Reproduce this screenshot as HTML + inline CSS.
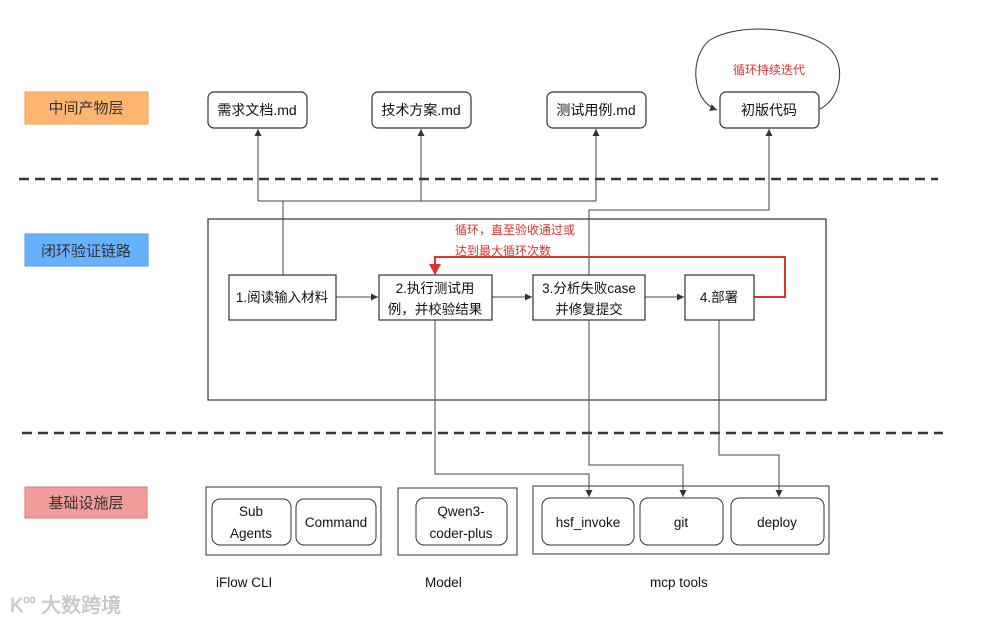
<!DOCTYPE html>
<html><head><meta charset="utf-8"><style>
body{margin:0;background:#fff;}
svg{display:block;font-family:"Liberation Sans","Noto Sans CJK SC",sans-serif;}
</style></head><body>
<svg width="1000" height="622" viewBox="0 0 1000 622" xmlns="http://www.w3.org/2000/svg">
<defs>
<marker id="a" markerWidth="8" markerHeight="8" refX="7" refY="4" orient="auto" markerUnits="userSpaceOnUse"><path d="M0,0.5 L7,4 L0,7.5 Z" fill="#333"/></marker>
<marker id="r" markerWidth="12" markerHeight="12" refX="10" refY="6" orient="auto" markerUnits="userSpaceOnUse"><path d="M0,0 L11,6 L0,12 Z" fill="#e03030"/></marker>
</defs>
<rect width="1000" height="622" fill="#fff"/>
<rect x="25" y="92" width="123" height="32" fill="#FFB570" stroke="#f0a050"/>
<text x="86" y="113" font-size="15" text-anchor="middle" fill="#333">中间产物层</text>
<rect x="25" y="234" width="123" height="32" fill="#66B2FF" stroke="#4a9ef0"/>
<text x="86" y="256" font-size="15" text-anchor="middle" fill="#333">闭环验证链路</text>
<rect x="25" y="487" width="122" height="31" fill="#F19C99" stroke="#e07a78"/>
<text x="86" y="508" font-size="15" text-anchor="middle" fill="#333">基础设施层</text>
<line x1="19" y1="179" x2="938" y2="179" stroke="#333" stroke-width="2.5" stroke-dasharray="10,6"/>
<line x1="22" y1="433" x2="943" y2="433" stroke="#333" stroke-width="2.5" stroke-dasharray="10,6"/>
<g fill="#fff" stroke="#333" stroke-width="1.2">
<rect x="208" y="92" width="99" height="36" rx="6"/>
<rect x="372" y="92" width="99" height="36" rx="6"/>
<rect x="547" y="92" width="99" height="36" rx="6"/>
<rect x="720" y="92" width="99" height="36" rx="6"/>
</g>
<g font-size="14" text-anchor="middle" fill="#111">
<text x="257" y="115">需求文档.md</text>
<text x="421" y="115">技术方案.md</text>
<text x="596" y="115">测试用例.md</text>
<text x="769" y="115">初版代码</text>
</g>
<path d="M820,109 C842,98 848,60 825,45 C800,28 740,22 710,40 C690,55 690,100 717,110" fill="none" stroke="#333" stroke-width="1" marker-end="url(#a)"/>
<text x="769" y="74" font-size="12" text-anchor="middle" fill="#e03030">循环持续迭代</text>
<rect x="208" y="219" width="618" height="181" fill="none" stroke="#333" stroke-width="1.2"/>
<g fill="#fff" stroke="#333" stroke-width="1">
<rect x="206" y="487" width="175" height="68"/>
<rect x="398" y="488" width="119" height="67"/>
<rect x="533" y="486" width="296" height="68"/>
<rect x="212" y="499" width="79" height="46" rx="8"/>
<rect x="296" y="499" width="80" height="46" rx="8"/>
<rect x="416" y="498" width="91" height="47" rx="8"/>
<rect x="542" y="498" width="92" height="47" rx="8"/>
<rect x="640" y="498" width="83" height="47" rx="8"/>
<rect x="731" y="498" width="93" height="47" rx="8"/>
</g>
<g fill="none" stroke="#444" stroke-width="1">
<path d="M283,275 V201"/>
<path d="M258,201 H596"/>
<path d="M258,201 V129" marker-end="url(#a)"/>
<path d="M421,201 V129" marker-end="url(#a)"/>
<path d="M596,201 V129" marker-end="url(#a)"/>
<path d="M589,275 V210 H769 V129" marker-end="url(#a)"/>
<path d="M336,297 H378" marker-end="url(#a)"/>
<path d="M492,297 H532" marker-end="url(#a)"/>
<path d="M645,297 H684" marker-end="url(#a)"/>
<path d="M435,320 V474 H589 V497" marker-end="url(#a)"/>
<path d="M589,320 V465 H683 V497" marker-end="url(#a)"/>
<path d="M719,320 V455 H779 V497" marker-end="url(#a)"/>
</g>
<path d="M754,297 H785 V257 H435 V274" fill="none" stroke="#e03030" stroke-width="2" marker-end="url(#r)"/>
<text x="455" y="234" font-size="12" fill="#e03030">循环，直至验收通过或</text>
<text x="455" y="255" font-size="12" fill="#e03030">达到最大循环次数</text>
<g fill="#fff" stroke="#333" stroke-width="1.2">
<rect x="229" y="275" width="107" height="45"/>
<rect x="379" y="275" width="113" height="45"/>
<rect x="533" y="275" width="112" height="45"/>
<rect x="685" y="275" width="69" height="45"/>
</g>
<g font-size="13.5" text-anchor="middle" fill="#111">
<text x="282" y="302">1.阅读输入材料</text>
<text x="435" y="293">2.执行测试用</text>
<text x="435" y="314">例，并校验结果</text>
<text x="589" y="293">3.分析失败case</text>
<text x="589" y="314">并修复提交</text>
<text x="719" y="302">4.部署</text>
</g>
<g font-size="13.5" text-anchor="middle" fill="#111">
<text x="251" y="516">Sub</text>
<text x="251" y="538">Agents</text>
<text x="336" y="527">Command</text>
<text x="461" y="516">Qwen3-</text>
<text x="461" y="538">coder-plus</text>
<text x="588" y="527">hsf_invoke</text>
<text x="681" y="527">git</text>
<text x="777" y="527">deploy</text>
</g>
<g font-size="13.5" fill="#111">
<text x="216" y="587">iFlow CLI</text>
<text x="425" y="587">Model</text>
<text x="650" y="587">mcp tools</text>
</g>
<text x="10" y="612" font-size="20" fill="#ccc" stroke="#bbb" stroke-width="0.4">K<tspan font-size="11" dy="-9">oo</tspan><tspan dy="9"> 大数跨境</tspan></text>
</svg>
</body></html>
